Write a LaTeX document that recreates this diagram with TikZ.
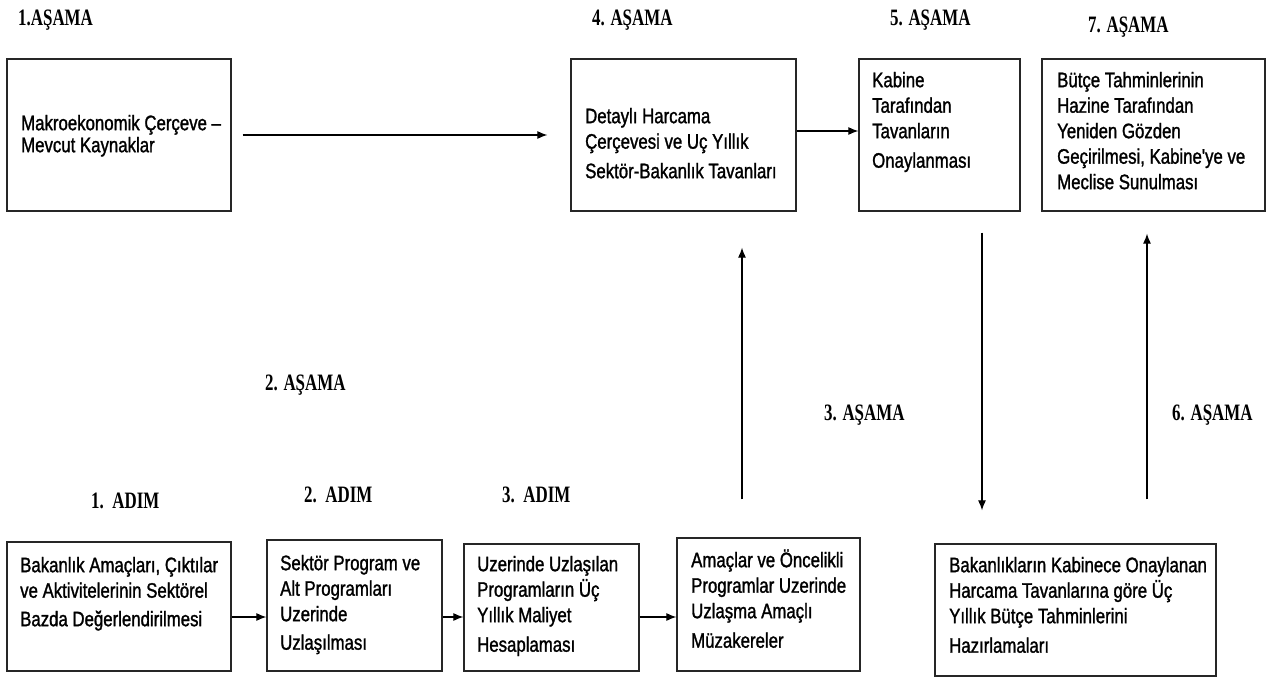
\documentclass[tikz,border=0pt]{standalone}
\usepackage{fontspec}
\newfontfamily\boxfont[FakeStretch=0.8,FakeBold=1.3]{Liberation Sans}
\newfontfamily\labfont[FakeStretch=0.72]{Liberation Serif}
\usetikzlibrary{arrows.meta}
\tikzset{
  box/.style={draw=black!85, line width=1.3pt, inner sep=0pt},
  txt/.style={anchor=north west, inner sep=0pt, align=left, font=\boxfont\fontsize{21}{25.5}\selectfont},
  lab/.style={anchor=base west, inner sep=0pt, font=\labfont\bfseries\fontsize{23.5}{26}\selectfont},
  arr/.style={-{Latex[length=10pt,width=8pt]}, line width=1.1pt},
}
\begin{document}
\begin{tikzpicture}[x=1pt,y=-1pt]
\useasboundingbox (0,0) rectangle (1267,677);
% top boxes
\node[box, minimum width=224pt, minimum height=152pt] (b1) at (119,135) {};
\node[box, minimum width=225pt, minimum height=152pt] (b4) at (683.5,135) {};
\node[box, minimum width=161pt, minimum height=152pt] (b5) at (939.5,135) {};
\node[box, minimum width=223pt, minimum height=152pt] (b7) at (1153.5,135) {};
% bottom boxes
\node[box, minimum width=224pt, minimum height=129pt] (B1) at (119,606.5) {};
\node[box, minimum width=175pt, minimum height=131pt] (B2) at (354.5,605.5) {};
\node[box, minimum width=175pt, minimum height=127pt] (B3) at (551.5,607.5) {};
\node[box, minimum width=183pt, minimum height=133pt] (B4) at (768.5,604.5) {};
\node[box, minimum width=281pt, minimum height=132pt] (B6) at (1075.5,610) {};
% box texts
\node[txt, font=\boxfont\fontsize{21}{22}\selectfont] (t1) at (21,114.6) {\strut Makroekonomik Çerçeve –\\Mevcut Kaynaklar};
\node[txt] (t4) at (585,105.15) {\strut Detaylı Harcama\\Çerçevesi ve Uç Yıllık\\[4pt]Sektör-Bakanlık Tavanları};
\node[txt] (t5) at (872,69.15) {\strut Kabine\\Tarafından\\Tavanların\\[4pt]Onaylanması};
\node[txt] (t7) at (1057,69.15) {\strut Bütçe Tahminlerinin\\Hazine Tarafından\\Yeniden Gözden\\Geçirilmesi, Kabine'ye ve\\Meclise Sunulması};
\node[txt] (T1) at (20,554.15) {\strut Bakanlık Amaçları, Çıktılar\\ve Aktivitelerinin Sektörel\\[3pt]Bazda Değerlendirilmesi};
\node[txt] (T2) at (280,552.15) {\strut Sektör Program ve\\Alt Programları\\Uzerinde\\[3pt]Uzlaşılması};
\node[txt] (T3) at (477,553.15) {\strut Uzerinde Uzlaşılan\\Programların Üç\\Yıllık Maliyet\\[4pt]Hesaplaması};
\node[txt] (T4) at (691,549.15) {\strut Amaçlar ve Öncelikli\\Programlar Uzerinde\\Uzlaşma Amaçlı\\[4pt]Müzakereler};
\node[txt] (T6) at (949,554.15) {\strut Bakanlıkların Kabinece Onaylanan\\Harcama Tavanlarına göre Üç\\Yıllık Bütçe Tahminlerini\\[4pt]Hazırlamaları};
% labels
\node[lab] (l1) at (18,26) {1.AŞAMA};
\node[lab] (l4) at (592,26) {4. AŞAMA};
\node[lab] (l5) at (890,26) {5. AŞAMA};
\node[lab] (l7) at (1088,33) {7. AŞAMA};
\node[lab] (l2) at (265,390) {2. AŞAMA};
\node[lab] (l3) at (824,420) {3. AŞAMA};
\node[lab] (l6) at (1172,420) {6. AŞAMA};
\node[lab] (a1) at (91,508) {1.\ \ ADIM};
\node[lab] (a2) at (304,502) {2.\ \ ADIM};
\node[lab] (a3) at (502,502) {3.\ \ ADIM};
% connectors
\draw[arr] ([xshift=11pt]b1.east) -- ([xshift=-23pt]b4.west);
\draw[arr] ([yshift=4pt]b4.east) -- ([yshift=4pt]b5.west);
\coordinate (c1) at ([yshift=-10.5pt]B1.east);
\coordinate (c2) at ([yshift=-11.5pt]B2.east);
\coordinate (c3) at ([yshift=-9.5pt]B3.east);
\draw[arr] (c1) -- (c1 -| B2.west);
\draw[arr] (c2) -- (c2 -| B3.west);
\draw[arr] (c3) -- (c3 -| B4.west);
\draw[arr] ([xshift=-26.5pt,yshift=38pt]B4.north) -- ([xshift=58.5pt,yshift=-36pt]b4.south);
\draw[arr] ([xshift=42.5pt,yshift=-21pt]b5.south) -- ([xshift=-93.5pt,yshift=33pt]B6.north);
\draw[arr] ([xshift=71.5pt,yshift=44pt]B6.north) -- ([xshift=-6.5pt,yshift=-22pt]b7.south);
\end{tikzpicture}
\end{document}
